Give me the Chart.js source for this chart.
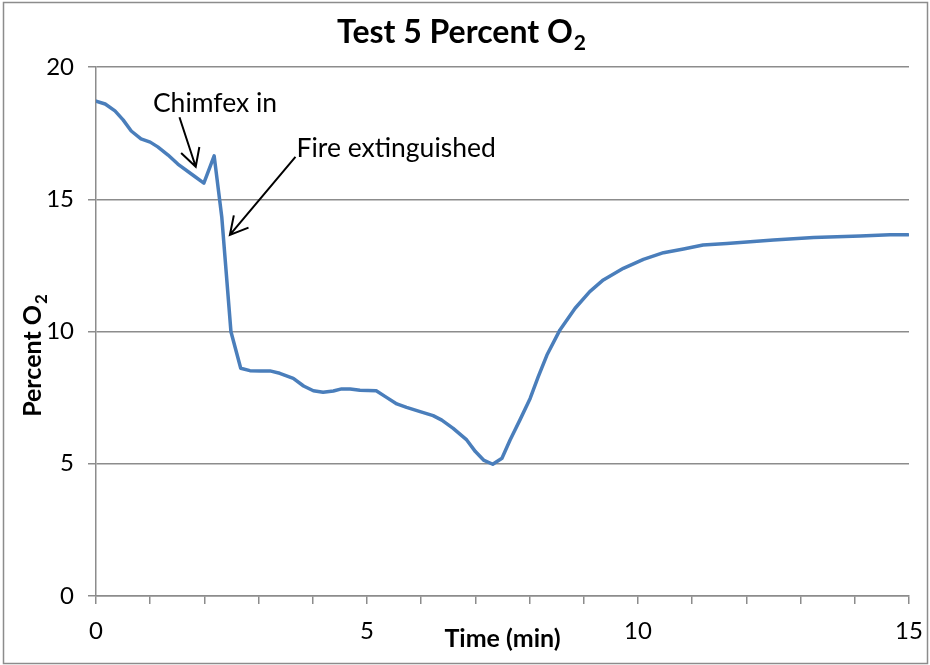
<!DOCTYPE html>
<html>
<head>
<meta charset="utf-8">
<script src="https://cdn.jsdelivr.net/npm/chart.js@4/dist/chart.umd.min.js"></script>
<style>
html,body{margin:0;padding:0;background:#fff;}
#wrap{width:930px;height:665px;position:relative;}
</style>
</head>
<body>
<div id="wrap"><canvas id="c" width="930" height="665"></canvas></div>
<script>
const chartTitle = "Test 5 Percent O";
const titleSub = "2";
const xAxisTitle = "Time (min)";
const yAxisTitle = "Percent O";
const yAxisSub = "2";
const xTickLabels = [0, 5, 10, 15];
const yTickLabels = [0, 5, 10, 15, 20];

const timeMin = [0, 0.17, 0.35, 0.5, 0.65, 0.83, 1.0, 1.14, 1.33, 1.51, 1.81, 1.99, 2.18, 2.32, 2.49, 2.67, 2.84, 3.03, 3.21, 3.39, 3.64, 3.83, 4.01, 4.19, 4.38, 4.53, 4.69, 4.87, 5.17, 5.36, 5.55, 5.73, 5.98, 6.22, 6.38, 6.59, 6.84, 7.0, 7.15, 7.32, 7.49, 7.64, 7.82, 8.01, 8.16, 8.32, 8.56, 8.84, 9.11, 9.36, 9.73, 10.1, 10.47, 10.84, 11.2, 11.64, 12.07, 12.5, 13.24, 14.1, 14.65, 14.98];
const percentO2 = [18.71, 18.6, 18.34, 18.0, 17.58, 17.28, 17.16, 16.98, 16.67, 16.33, 15.88, 15.61, 16.64, 14.34, 9.99, 8.61, 8.52, 8.51, 8.51, 8.42, 8.23, 7.94, 7.76, 7.7, 7.75, 7.83, 7.83, 7.78, 7.76, 7.51, 7.26, 7.13, 6.97, 6.82, 6.65, 6.34, 5.9, 5.46, 5.14, 4.98, 5.21, 5.9, 6.65, 7.47, 8.29, 9.11, 10.06, 10.88, 11.51, 11.95, 12.39, 12.73, 12.98, 13.12, 13.27, 13.33, 13.39, 13.46, 13.55, 13.61, 13.66, 13.66];

// annotation anchors in data units
const annChimfex = {text: "Chimfex in", tx: 1.05, ty: 18.64, x1: 1.54, y1: 18.1, x2: 1.84, y2: 16.23};
const annFire = {text: "Fire extinguished", tx: 3.7, ty: 16.93, x1: 3.68, y1: 16.6, x2: 2.47, y2: 13.65};

const FONT = "Lato, 'Open Sans', 'Liberation Sans', sans-serif";
const GRID = "#8c8c8c";

const points = timeMin.map((t, i) => ({x: t, y: percentO2[i]}));

const overlay = {
  id: 'overlay',
  afterDraw(chart) {
    const ctx = chart.ctx;
    const xs = chart.scales.x, ys = chart.scales.y;
    ctx.save();
    // outer frame
    ctx.strokeStyle = "#8c8c8c";
    ctx.lineWidth = 1.5;
    ctx.strokeRect(3.5, 2.5, 924, 661);
    // title with subscript
    ctx.fillStyle = "#000";
    ctx.textBaseline = "alphabetic";
    ctx.font = "bold 32px " + FONT;
    const w1 = ctx.measureText(chartTitle).width;
    ctx.font = "bold 21px " + FONT;
    const w2 = ctx.measureText(titleSub).width;
    const cx = 461;
    let sx = cx - (w1 + w2) / 2;
    ctx.font = "bold 32px " + FONT;
    ctx.textAlign = "left";
    ctx.fillText(chartTitle, sx, 43);
    ctx.font = "bold 21px " + FONT;
    ctx.fillText(titleSub, sx + w1 + 1, 50);
    // x axis title
    ctx.font = "bold 25px " + FONT;
    ctx.textAlign = "center";
    ctx.fillText(xAxisTitle, (xs.left + xs.right) / 2, 647);
    // y axis title rotated
    ctx.save();
    ctx.translate(41, 356);
    ctx.rotate(-Math.PI / 2);
    ctx.font = "bold 25px " + FONT;
    const yw1 = ctx.measureText(yAxisTitle).width;
    ctx.font = "bold 17px " + FONT;
    const yw2 = ctx.measureText(yAxisSub).width;
    ctx.textAlign = "left";
    const ys0 = -(yw1 + yw2) / 2;
    ctx.font = "bold 25px " + FONT;
    ctx.fillText(yAxisTitle, ys0, 0);
    ctx.font = "bold 17px " + FONT;
    ctx.fillText(yAxisSub, ys0 + yw1 + 1, 6);
    ctx.restore();
    // annotations
    ctx.font = "26.5px " + FONT;
    ctx.textAlign = "left";
    ctx.textBaseline = "middle";
    [annChimfex, annFire].forEach(a => {
      ctx.fillStyle = "#000";
      ctx.fillText(a.text, xs.getPixelForValue(a.tx), ys.getPixelForValue(a.ty));
      const px1 = xs.getPixelForValue(a.x1), py1 = ys.getPixelForValue(a.y1);
      const px2 = xs.getPixelForValue(a.x2), py2 = ys.getPixelForValue(a.y2);
      ctx.strokeStyle = "#000";
      ctx.lineWidth = 2;
      ctx.beginPath();
      ctx.moveTo(px1, py1);
      ctx.lineTo(px2, py2);
      const ang = Math.atan2(py2 - py1, px2 - px1);
      const L = 20, spread = 0.5;
      ctx.moveTo(px2 - L * Math.cos(ang - spread), py2 - L * Math.sin(ang - spread));
      ctx.lineTo(px2, py2);
      ctx.lineTo(px2 - L * Math.cos(ang + spread), py2 - L * Math.sin(ang + spread));
      ctx.stroke();
    });
    ctx.restore();
  }
};

new Chart(document.getElementById('c'), {
  type: 'scatter',
  data: {
    datasets: [{
      data: points,
      showLine: true,
      borderColor: '#4a7ebb',
      backgroundColor: '#4a7ebb',
      borderWidth: 3.5,
      borderJoinStyle: 'round',
      borderCapStyle: 'round',
      pointRadius: 0,
      tension: 0
    }]
  },
  options: {
    responsive: false,
    animation: false,
    devicePixelRatio: 1,
    layout: {padding: {left: 0, right: 21, top: 67, bottom: 0}},
    plugins: {legend: {display: false}, title: {display: false}, tooltip: {enabled: false}},
    scales: {
      x: {
        type: 'linear', min: 0, max: 15,
        afterFit(s) { s.height = 69; s.paddingLeft = 0; s.paddingRight = 0; },
        afterBuildTicks(s) { s.ticks = Array.from({length: 16}, (_, i) => ({value: i})); },
        ticks: {
          autoSkip: false, maxRotation: 0,
          font: {family: FONT, size: 24},
          color: '#000',
          padding: 13,
          callback: v => xTickLabels.includes(v) ? String(v) : ''
        },
        grid: {drawOnChartArea: false, drawTicks: true, tickLength: 8, color: GRID, lineWidth: 1.5},
        border: {color: GRID, width: 1.5}
      },
      y: {
        min: 0, max: 20,
        afterFit(s) { s.width = 96; },
        afterBuildTicks(s) { s.ticks = yTickLabels.map(v => ({value: v})); },
        ticks: {
          font: {family: FONT, size: 24},
          color: '#000',
          padding: 14,
          callback: v => String(v)
        },
        grid: {color: GRID, lineWidth: 1.5, tickLength: 8, drawTicks: true},
        border: {color: GRID, width: 1.5}
      }
    }
  },
  plugins: [overlay]
});
</script>
</body>
</html>
